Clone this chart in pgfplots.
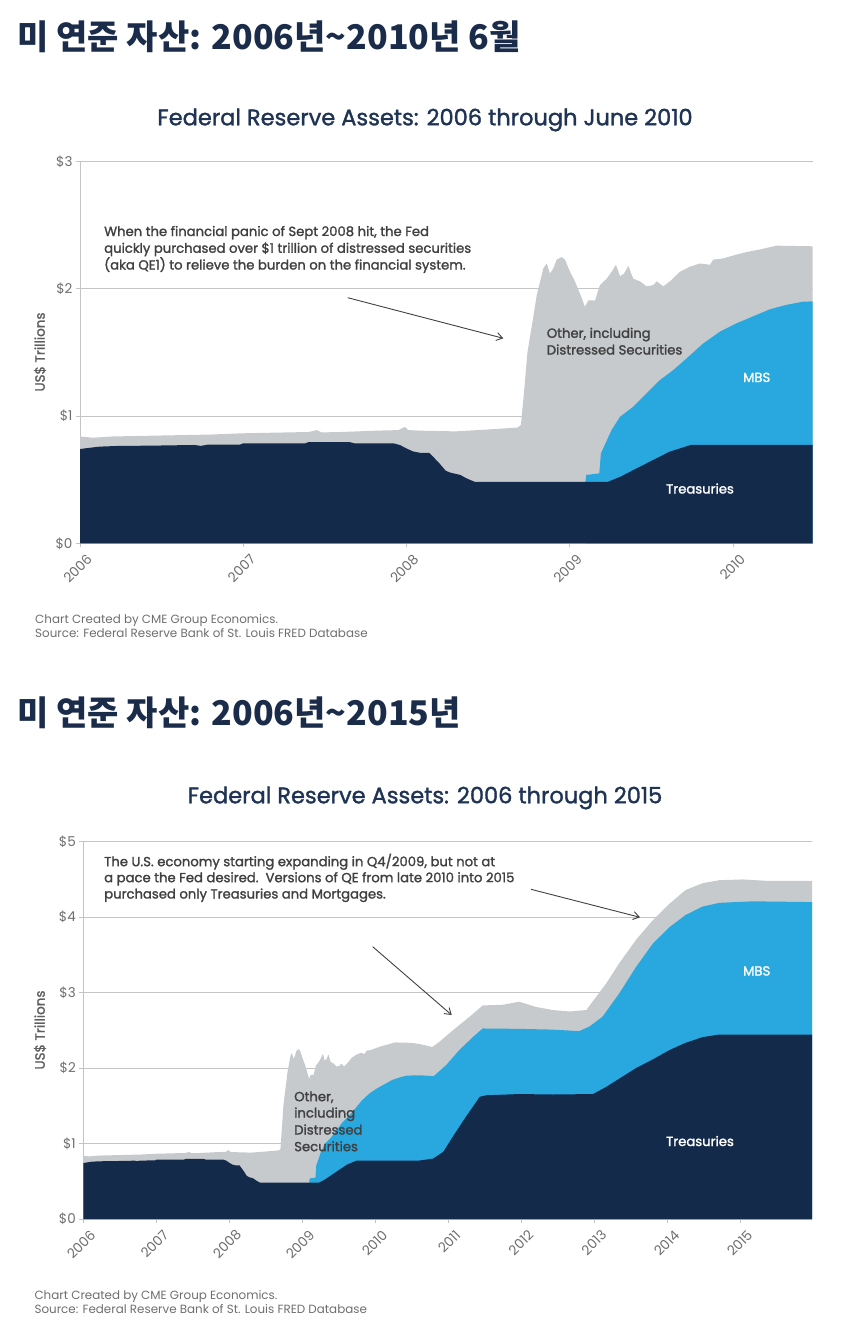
\documentclass[border=0pt]{standalone}
\usepackage{pgfplots}
\pgfplotsset{compat=1.18}
\usepackage{pgfplotstable}
\usepackage{fontspec}
\setmainfont{Poppins}
\newfontfamily\popsb{Poppins}[FakeBold=1.6]
\newfontfamily\poptl{Poppins}[FakeBold=1.4]
\newfontfamily\kr{Noto Sans CJK KR}
\usetikzlibrary{arrows.meta}
\definecolor{navy}{HTML}{142A4B}
\definecolor{mbs}{HTML}{29A8E0}
\definecolor{oth}{HTML}{C7CACD}
\definecolor{head}{HTML}{1B2C4A}
\definecolor{ttl}{HTML}{1F3354}
\definecolor{txt}{HTML}{404040}
\definecolor{tickc}{HTML}{6E6E6E}
\definecolor{gridc}{HTML}{C4C4C4}
\definecolor{basec}{HTML}{A9BCCC}

% Treasuries held (US$ trillions)
\pgfplotstableread{
x y
2006.00 0.741
2006.04 0.748
2006.12 0.760
2006.22 0.765
2006.45 0.768
2006.70 0.773
2006.74 0.766
2006.78 0.775
2006.98 0.776
2007.00 0.786
2007.38 0.786
2007.40 0.796
2007.65 0.796
2007.68 0.786
2007.92 0.786
2007.96 0.772
2008.00 0.745
2008.04 0.722
2008.08 0.712
2008.14 0.710
2008.20 0.630
2008.24 0.570
2008.27 0.555
2008.33 0.537
2008.36 0.515
2008.39 0.498
2008.42 0.482
2009.23 0.482
2009.31 0.524
2009.41 0.590
2009.51 0.655
2009.61 0.720
2009.72 0.765
2009.74 0.773
2010.60 0.775
2010.79 0.800
2010.93 0.890
2011.06 1.090
2011.24 1.355
2011.43 1.620
2011.52 1.640
2011.97 1.656
2012.43 1.650
2012.98 1.656
2013.16 1.750
2013.34 1.860
2013.57 2.000
2013.80 2.115
2014.03 2.240
2014.25 2.335
2014.48 2.410
2014.71 2.445
2015.98 2.445
}\treas

% Treasuries + MBS (cumulative level)
\pgfplotstableread{
x y
2009.095 0.482
2009.100 0.537
2009.180 0.550
2009.190 0.707
2009.255 0.890
2009.307 0.995
2009.388 1.074
2009.470 1.180
2009.552 1.284
2009.633 1.362
2009.715 1.454
2009.817 1.572
2009.919 1.664
2010.021 1.730
2010.123 1.785
2010.225 1.840
2010.327 1.875
2010.429 1.900
2010.600 1.905
2010.800 1.894
2010.970 2.040
2011.150 2.240
2011.340 2.415
2011.470 2.525
2011.970 2.520
2012.430 2.510
2012.790 2.490
2012.930 2.550
2013.110 2.680
2013.340 2.990
2013.570 3.340
2013.800 3.650
2014.030 3.870
2014.250 4.030
2014.480 4.140
2014.710 4.190
2015.170 4.210
2015.980 4.200
}\mbscum

% Total assets (cumulative level incl. other)
\pgfplotstableread{
x y
2006.000 0.840
2006.080 0.830
2006.200 0.840
2006.400 0.845
2006.600 0.850
2006.800 0.855
2007.000 0.865
2007.200 0.870
2007.400 0.875
2007.450 0.890
2007.480 0.872
2007.600 0.875
2007.800 0.885
2007.950 0.890
2007.990 0.915
2008.010 0.890
2008.100 0.885
2008.300 0.880
2008.500 0.895
2008.680 0.910
2008.700 0.930
2008.720 1.200
2008.740 1.500
2008.776 1.780
2008.797 1.950
2008.837 2.160
2008.858 2.200
2008.878 2.120
2008.898 2.160
2008.919 2.230
2008.950 2.250
2008.970 2.230
2009.001 2.135
2009.031 2.060
2009.072 1.930
2009.092 1.860
2009.113 1.910
2009.154 1.910
2009.184 2.030
2009.225 2.080
2009.256 2.135
2009.282 2.190
2009.307 2.100
2009.331 2.120
2009.358 2.180
2009.388 2.080
2009.429 2.060
2009.470 2.020
2009.511 2.030
2009.531 2.060
2009.572 2.020
2009.613 2.060
2009.674 2.135
2009.735 2.175
2009.797 2.200
2009.858 2.190
2009.878 2.230
2009.939 2.240
2010.021 2.270
2010.082 2.290
2010.164 2.310
2010.266 2.340
2010.487 2.335
2010.600 2.320
2010.780 2.280
2010.880 2.350
2011.060 2.500
2011.290 2.680
2011.470 2.830
2011.750 2.840
2011.970 2.880
2012.200 2.810
2012.430 2.770
2012.660 2.750
2012.890 2.770
2013.020 2.940
2013.160 3.120
2013.340 3.390
2013.570 3.700
2013.800 3.960
2014.030 4.180
2014.250 4.360
2014.480 4.450
2014.710 4.490
2015.030 4.500
2015.390 4.480
2015.980 4.480
}\total

\pgfplotsset{
  fed/.style={
    scale only axis, anchor=south west,
    axis x line*=bottom, axis y line*=left,
    xmin=2006, ymin=0,
    ymajorgrids, grid style={gridc, line width=1pt},
    y axis line style={gridc, line width=1pt},
    x axis line style={basec, line width=1pt},
    tick style={gridc, line width=1pt},
    major tick length=4pt, tick align=outside,
    ticklabel style={font=\fontsize{13.5}{15}\selectfont, text=tickc},
    xticklabel style={xshift=12pt, yshift=-7pt, rotate=45, anchor=east},
    yticklabel style={anchor=east},
  }
}

\begin{document}
\begin{tikzpicture}
\useasboundingbox (0pt,0pt) rectangle (850pt,-1339pt);

% ---------- Chart 1 ----------
\node[anchor=west, text=head, font=\kr\bfseries\fontsize{34}{38}\selectfont] at (14pt,-37pt) {미 연준 자산: 2006년\textasciitilde 2010년 6월};
\node[text=ttl, font=\poptl\fontsize{22.5}{26}\selectfont] at (425pt,-120pt) {Federal Reserve Assets: 2006 through June 2010};

\begin{axis}[fed, at={(80pt,-543.3pt)}, width=732.7pt, height=381.6pt,
  xmax=2010.487, ymax=3,
  xtick={2006,2007,2008,2009,2010}, xticklabels={2006,2007,2008,2009,2010},
  ytick={0,1,2,3}, yticklabels={\$0,\$1,\$2,\$3}]
\addplot[fill=oth, draw=none] table[x=x,y=y]{\total} \closedcycle;
\addplot[fill=mbs, draw=none] table[x=x,y=y]{\mbscum} \closedcycle;
\addplot[fill=navy, draw=none] table[x=x,y=y]{\treas} \closedcycle;
\end{axis}

\node[rotate=90, text=tickc!85!black, font=\popsb\fontsize{13.5}{15}\selectfont] at (40pt,-352pt) {US\$ Trillions};
\begin{scope}[font=\popsb\fontsize{13.2}{15}\selectfont, text=txt]
\node[anchor=base west] at (100.7pt,-236pt) {When the financial panic of Sept 2008 hit, the Fed};
\node[anchor=base west] at (100.7pt,-252.8pt) {quickly purchased over \$1 trillion of distressed securities};
\node[anchor=base west] at (100.7pt,-269.5pt) {(aka QE1) to relieve the burden on the financial system.};
\node[anchor=base west] at (543.3pt,-337.8pt) {Other, including};
\node[anchor=base west] at (543.3pt,-354.5pt) {Distressed Securities};
\node[anchor=base, text=white] at (756.7pt,-382pt) {MBS};
\node[anchor=base, text=white] at (700pt,-493.5pt) {Treasuries};
\end{scope}
\draw[txt, line width=0.9pt, -{Straight Barb[length=6pt,width=8pt]}] (347.7pt,-297.7pt) -- (503.3pt,-338.3pt);
\begin{scope}[font=\fontsize{11.9}{13}\selectfont, text=tickc]
\node[anchor=base west] at (31.7pt,-623.3pt) {Chart Created by CME Group Economics.};
\node[anchor=base west] at (31.7pt,-637.3pt) {Source: Federal Reserve Bank of St. Louis FRED Database};
\end{scope}

% ---------- Chart 2 ----------
\node[anchor=west, text=head, font=\kr\bfseries\fontsize{34}{38}\selectfont] at (14pt,-713pt) {미 연준 자산: 2006년\textasciitilde 2015년};
\node[text=ttl, font=\poptl\fontsize{22.5}{26}\selectfont] at (425pt,-798pt) {Federal Reserve Assets: 2006 through 2015};

\begin{axis}[fed, at={(83.3pt,-1219pt)}, width=728.7pt, height=377.3pt,
  xmax=2015.98, ymax=5,
  xtick={2006,2007,2008,2009,2010,2011,2012,2013,2014,2015},
  xticklabels={2006,2007,2008,2009,2010,2011,2012,2013,2014,2015},
  ytick={0,1,2,3,4,5}, yticklabels={\$0,\$1,\$2,\$3,\$4,\$5}]
\addplot[fill=oth, draw=none] table[x=x,y=y]{\total} \closedcycle;
\addplot[fill=mbs, draw=none] table[x=x,y=y]{\mbscum} \closedcycle;
\addplot[fill=navy, draw=none] table[x=x,y=y]{\treas} \closedcycle;
\end{axis}

\node[rotate=90, text=tickc!85!black, font=\popsb\fontsize{13.5}{15}\selectfont] at (40pt,-1030pt) {US\$ Trillions};
\begin{scope}[font=\popsb\fontsize{13.2}{15}\selectfont, text=txt]
\node[anchor=base west] at (100.7pt,-866.2pt) {The U.S. economy starting expanding in Q4/2009, but not at};
\node[anchor=base west] at (100.7pt,-882.2pt) {a pace the Fed desired.\ \ Versions of QE from late 2010 into 2015};
\node[anchor=base west] at (100.7pt,-898.5pt) {purchased only Treasuries and Mortgages.};
\node[anchor=base west] at (290.7pt,-1101.2pt) {Other,};
\node[anchor=base west] at (290.7pt,-1117.5pt) {including};
\node[anchor=base west] at (290.7pt,-1134.5pt) {Distressed};
\node[anchor=base west] at (290.7pt,-1151.2pt) {Securities};
\node[anchor=base, text=white] at (756.7pt,-975.5pt) {MBS};
\node[anchor=base, text=white] at (700pt,-1146pt) {Treasuries};
\end{scope}
\draw[txt, line width=0.9pt, -{Straight Barb[length=6pt,width=8pt]}] (372.7pt,-946.7pt) -- (451.7pt,-1015pt);
\draw[txt, line width=0.9pt, -{Straight Barb[length=6pt,width=8pt]}] (531pt,-889.3pt) -- (640pt,-917.3pt);
\begin{scope}[font=\fontsize{11.9}{13}\selectfont, text=tickc]
\node[anchor=base west] at (31pt,-1299pt) {Chart Created by CME Group Economics.};
\node[anchor=base west] at (31pt,-1313pt) {Source: Federal Reserve Bank of St. Louis FRED Database};
\end{scope}
\end{tikzpicture}
\end{document}
